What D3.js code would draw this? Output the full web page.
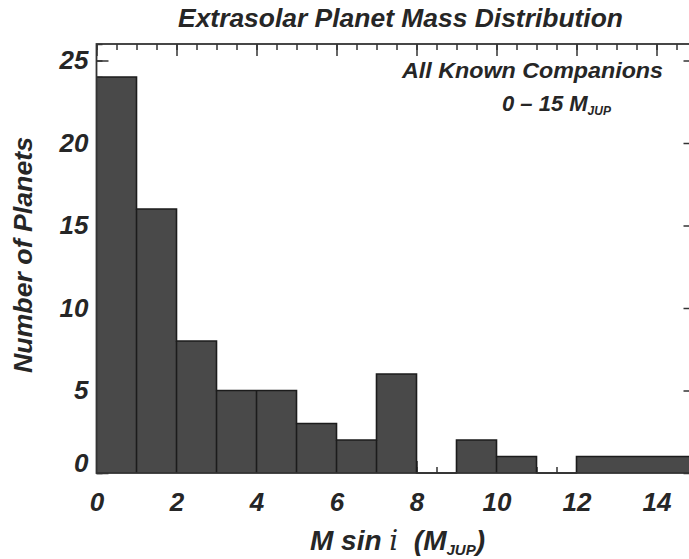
<!DOCTYPE html>
<html lang="en">
<head>
<meta charset="utf-8">
<title>Extrasolar Planet Mass Distribution</title>
<script src="https://d3js.org/d3.v7.min.js"></script>
<style>
  body { margin: 0; background: #fff; }
  svg text {
    font-family: "Liberation Sans", Arial, Helvetica, sans-serif;
    font-weight: bold;
    font-style: italic;
    fill: #262626;
  }
  .axis path { display: none; }
  .axis line { stroke: #333; stroke-width: 1.5; }
  .frame { fill: none; stroke: #333; stroke-width: 1.8; }
</style>
</head>
<body>
<script>

// histogram data (bin width 1 Jupiter mass)
var binStart = [0, 1, 2, 3, 4, 5, 6, 7, 8, 9, 10, 11, 12, 13, 14];
var counts   = [24, 16, 8, 5, 5, 3, 2, 6, 0, 2, 1, 0, 1, 1, 1];
var binWidth = 1;

var xTicks = [0, 2, 4, 6, 8, 10, 12, 14];
var yTicks = [0, 5, 10, 15, 20, 25];

var title = "Extrasolar Planet Mass Distribution";
var yTitle = "Number of Planets";
var note1 = "All Known Companions";

var width = 689, height = 559;
var plot = {left: 96.5, right: 696.5, top: 44, bottom: 473};

var svg = d3.select("body")
    .append("svg")
    .attr("width", width)
    .attr("height", height);

var x = d3.scaleLinear().domain([0, 15]).range([plot.left, plot.right]);
var y = d3.scaleLinear().domain([0, 26]).range([plot.bottom, plot.top]);

// inward ticks on all four sides
function addAxis(axis, tx, ty) {
    svg.append("g")
        .attr("class", "axis")
        .attr("transform", "translate(" + tx + "," + ty + ")")
        .call(axis);
}
var minorX = d3.range(0, 15.01, 0.5);
var minorY = d3.range(0, 27, 1);

addAxis(d3.axisTop(x).tickValues(minorX).tickSize(-6).tickFormat(""), 0, plot.top);
addAxis(d3.axisTop(x).tickValues(xTicks).tickSize(-12).tickFormat(""), 0, plot.top);
addAxis(d3.axisBottom(x).tickValues(minorX).tickSize(-6).tickFormat(""), 0, plot.bottom);
addAxis(d3.axisLeft(y).tickValues(minorY).tickSize(-6).tickFormat(""), plot.left, 0);
addAxis(d3.axisRight(y).tickValues(minorY).tickSize(-7).tickFormat(""), plot.right, 0);
addAxis(d3.axisRight(y).tickValues(yTicks).tickSize(-13).tickFormat(""), plot.right, 0);

// bottom axis with labels
svg.append("g")
    .attr("class", "axis xlab")
    .attr("transform", "translate(0," + plot.bottom + ")")
    .call(d3.axisBottom(x).tickValues(xTicks).tickSize(-12).tickPadding(20));

// left axis with labels
svg.append("g")
    .attr("class", "axis ylab")
    .attr("transform", "translate(" + plot.left + ",0)")
    .call(d3.axisLeft(y).tickValues(yTicks).tickSize(-12).tickPadding(8));

svg.selectAll(".xlab text, .ylab text")
    .attr("font-size", 26)
    .style("font-family", null);
// the zero label sits a little above the baseline in the original
svg.selectAll(".ylab .tick text")
    .filter(function(d) { return d === 0; })
    .attr("y", -10);

// bars
var bins = binStart.map(function(b, i) { return {x0: b, x1: b + binWidth, n: counts[i]}; });

svg.append("g")
    .attr("shape-rendering", "crispEdges")
    .selectAll("rect")
    .data(bins.filter(function(d) { return d.n > 0; }))
    .enter()
    .append("rect")
    .attr("x", function(d) { return x(d.x0); })
    .attr("width", function(d) { return x(d.x1) - x(d.x0) + 0.5; })
    .attr("y", function(d) { return y(d.n); })
    .attr("height", function(d) { return y(0) - y(d.n); })
    .attr("fill", "#494949");

// step outline over the bars
var stepPts = bins.map(function(d) { return [d.x0, d.n]; });
stepPts.push([15, counts[counts.length - 1]]);
svg.append("path")
    .attr("d", d3.line()
        .x(function(d) { return x(d[0]); })
        .y(function(d) { return y(d[1]); })
        .curve(d3.curveStepAfter)(stepPts))
    .attr("fill", "none")
    .attr("stroke", "#1c1c1c")
    .attr("stroke-width", 1.6);

// dividers between neighbouring bars (none drawn in the last 12-15 block)
var dividers = bins.slice(1).filter(function(d, i) {
    return d.x0 < 12 && Math.min(d.n, counts[i]) > 0;
});
svg.append("g")
    .selectAll("line")
    .data(dividers)
    .enter()
    .append("line")
    .attr("x1", function(d) { return x(d.x0); })
    .attr("x2", function(d) { return x(d.x0); })
    .attr("y1", y(0))
    .attr("y2", function(d) { return y(Math.min(d.n, counts[binStart.indexOf(d.x0) - 1])); })
    .attr("stroke", "#1c1c1c")
    .attr("stroke-width", 1.6);

// frame
svg.append("rect")
    .attr("class", "frame")
    .attr("x", plot.left)
    .attr("y", plot.top)
    .attr("width", plot.right - plot.left)
    .attr("height", plot.bottom - plot.top);

// title
svg.append("text")
    .attr("x", 178)
    .attr("y", 27)
    .attr("font-size", 25)
    .attr("textLength", 445)
    .attr("lengthAdjust", "spacingAndGlyphs")
    .text(title);

// y axis title
svg.append("text")
    .attr("transform", "translate(32,255)rotate(-90)")
    .attr("text-anchor", "middle")
    .attr("font-size", 25)
    .attr("textLength", 236)
    .attr("lengthAdjust", "spacingAndGlyphs")
    .text(yTitle);

// x axis title: M sin i  (M_JUP)
var xt = svg.append("text")
    .attr("x", 310)
    .attr("y", 550)
    .attr("font-size", 28);
xt.append("tspan").text("M sin ");
xt.append("tspan")
    .style("font-family", "'DejaVu Serif', serif")
    .style("font-weight", "normal")
    .text("i");
xt.append("tspan").text("\u00a0\u00a0(M");
xt.append("tspan").attr("font-size", 15).attr("dy", 5).text("JUP");
xt.append("tspan").attr("dy", -5).text(")");

// annotation
svg.append("text")
    .attr("x", 402)
    .attr("y", 78)
    .attr("font-size", 22)
    .attr("textLength", 261)
    .attr("lengthAdjust", "spacingAndGlyphs")
    .text(note1);

var n2 = svg.append("text")
    .attr("x", 502)
    .attr("y", 111)
    .attr("font-size", 22);
n2.append("tspan").text("0 \u2013 15 M");
n2.append("tspan").attr("font-size", 12).attr("dy", 4).text("JUP");

</script>
</body>
</html>
